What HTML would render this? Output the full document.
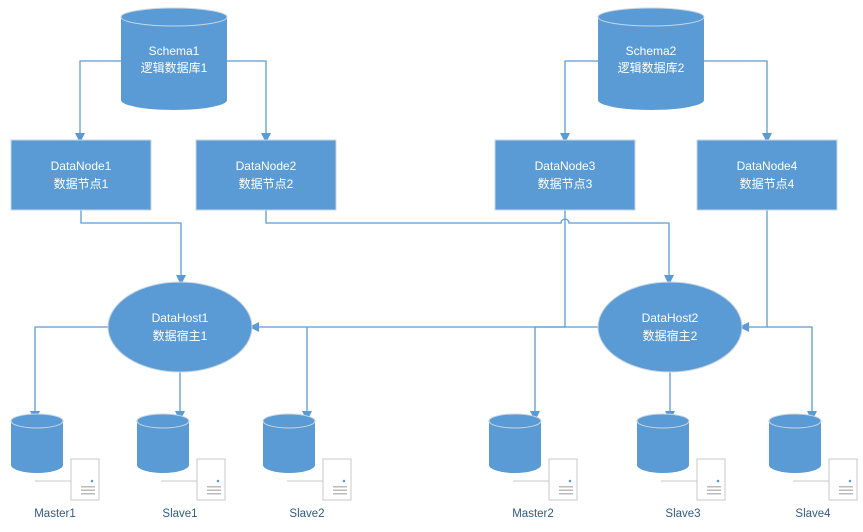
<!DOCTYPE html>
<html><head><meta charset="utf-8"><style>
body{margin:0;background:#fff}
svg{display:block}
text{font-family:"Liberation Sans","Noto Sans CJK SC",sans-serif;font-size:12px;fill:#fff;text-anchor:middle}
.lb{fill:#2f5b8a;font-size:11.5px}
</style></head><body>
<svg width="863" height="532" viewBox="0 0 863 532">
<defs>
<marker id="a" markerWidth="10" markerHeight="10" refX="5" refY="5" orient="auto" markerUnits="userSpaceOnUse"><path d="M0,0 L10,5 L0,10 z" fill="#5b9bd5"/></marker>
<g id="cyl"><path d="M0,8 L0,52 A26,8 0 0 0 52,52 L52,8" fill="#5b9bd5"/><ellipse cx="26" cy="8" rx="26" ry="7" fill="#5b9bd5" stroke="#c9d6e3" stroke-width="1"/></g>
<g id="srv"><line x1="-36" y1="22" x2="0" y2="22" stroke="#c8c8c8"/><rect x="0" y="0" width="28" height="41" fill="#fff" stroke="#c8c8c8"/><circle cx="21" cy="22" r="1.3" fill="#5b9bd5"/><rect x="10" y="27" width="14" height="1.5" fill="#bbb"/><rect x="10" y="30.5" width="14" height="1.5" fill="#bbb"/><rect x="10" y="34" width="14" height="1.5" fill="#bbb"/></g>
</defs>
<g fill="none" stroke="#5b9bd5" stroke-width="1.3">
<path d="M121,61 H80 V138" marker-end="url(#a)"/>
<path d="M227,61 H266 V138" marker-end="url(#a)"/>
<path d="M598,61 H565 V138" marker-end="url(#a)"/>
<path d="M704,61 H767 V138" marker-end="url(#a)"/>
<path d="M81,210 V223 H181 V280" marker-end="url(#a)"/>
<path d="M266,210 V223 H561 A4,4 0 0 1 569,223 H669 V280" marker-end="url(#a)"/>
<path d="M565,210 V327 H254" marker-end="url(#a)"/>
<path d="M767,210 V327 H744" marker-end="url(#a)"/>
<path d="M108,327 H35 V416" marker-end="url(#a)"/>
<path d="M180,372 V416" marker-end="url(#a)"/>
<path d="M307,327 V416" marker-end="url(#a)"/>
<path d="M598,327 H535 V416" marker-end="url(#a)"/>
<path d="M670,372 V416" marker-end="url(#a)"/>
<path d="M767,327 H812 V416" marker-end="url(#a)"/>
</g>
<!-- schemas -->
<g><path d="M121,17 V100 A53,10 0 0 0 227,100 V17" fill="#5b9bd5"/><ellipse cx="174" cy="17" rx="53" ry="9" fill="#5b9bd5" stroke="#c9d6e3"/></g>
<text x="174" y="55">Schema1</text><text x="174" y="72">逻辑数据库1</text>
<g><path d="M598,17 V100 A53,10 0 0 0 704,100 V17" fill="#5b9bd5"/><ellipse cx="651" cy="17" rx="53" ry="9" fill="#5b9bd5" stroke="#c9d6e3"/></g>
<text x="651" y="55">Schema2</text><text x="651" y="72">逻辑数据库2</text>
<!-- datanodes -->
<g fill="#5b9bd5" stroke="#c9d6e3">
<rect x="11" y="140" width="140" height="70"/><rect x="196" y="140" width="140" height="70"/>
<rect x="495" y="140" width="140" height="70"/><rect x="697" y="140" width="140" height="70"/>
<ellipse cx="180" cy="327" rx="72" ry="45"/><ellipse cx="670" cy="327" rx="72" ry="45"/>
</g>
<text x="81" y="170">DataNode1</text><text x="81" y="188">数据节点1</text>
<text x="266" y="170">DataNode2</text><text x="266" y="188">数据节点2</text>
<text x="565" y="170">DataNode3</text><text x="565" y="188">数据节点3</text>
<text x="767" y="170">DataNode4</text><text x="767" y="188">数据节点4</text>
<text x="180" y="322">DataHost1</text><text x="180" y="340">数据宿主1</text>
<text x="670" y="322">DataHost2</text><text x="670" y="340">数据宿主2</text>
<!-- bottom -->
<use href="#cyl" x="11" y="413"/><use href="#srv" x="71" y="459"/>
<use href="#cyl" x="137" y="413"/><use href="#srv" x="197" y="459"/>
<use href="#cyl" x="263" y="413"/><use href="#srv" x="323" y="459"/>
<use href="#cyl" x="489" y="413"/><use href="#srv" x="549" y="459"/>
<use href="#cyl" x="637" y="413"/><use href="#srv" x="697" y="459"/>
<use href="#cyl" x="769" y="413"/><use href="#srv" x="829" y="459"/>
<text class="lb" x="55" y="517">Master1</text>
<text class="lb" x="180" y="517">Slave1</text>
<text class="lb" x="307" y="517">Slave2</text>
<text class="lb" x="533" y="517">Master2</text>
<text class="lb" x="683" y="517">Slave3</text>
<text class="lb" x="813" y="517">Slave4</text>
</svg>
</body></html>
